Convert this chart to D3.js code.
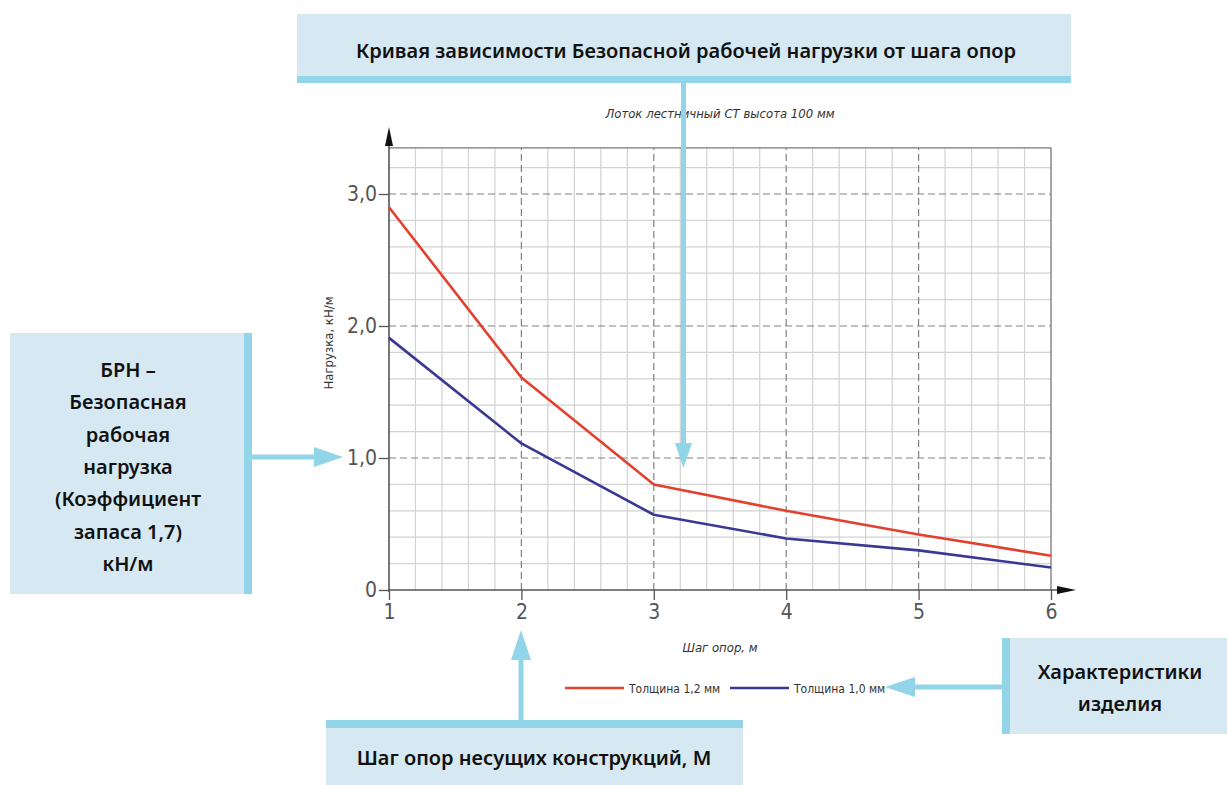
<!DOCTYPE html>
<html><head><meta charset="utf-8">
<script src="https://cdn.jsdelivr.net/npm/d3@7"></script>
<style>
html,body{margin:0;padding:0;background:#fff;}
svg{display:block;}
</style></head>
<body>
<svg id="chart" width="1227" height="785"></svg>
<script>
// ---- data ----
const spans = [1, 2, 3, 4, 5, 6];                 // Шаг опор, м
const load12 = [2.90, 1.61, 0.80, 0.60, 0.42, 0.26]; // Толщина 1,2 мм
const load10 = [1.91, 1.11, 0.57, 0.39, 0.30, 0.17]; // Толщина 1,0 мм
const seriesNames = ["Толщина 1,2 мм", "Толщина 1,0 мм"];
const seriesColors = ["#e2412f", "#3b3893"];
const xTicks = [1, 2, 3, 4, 5, 6];
const yTicks = [0, 1, 2, 3];
const yTickLabels = ["0", "1,0", "2,0", "3,0"];
const chartTitle = "Лоток лестничный СТ высота 100 мм";
const xTitle = "Шаг опор, м";
const yTitle = "Нагрузка, кН/м";

const svg = d3.select("#chart");
const x = d3.scaleLinear().domain([1, 6]).range([389, 1051]);
const y = d3.scaleLinear().domain([0, 3]).range([590, 194]);
const yTop = 3.35;
const narrow = "'Liberation Sans Narrow','DejaVu Sans Condensed',sans-serif";
const boxFont = "'Noto Sans','Open Sans',sans-serif";
const fill = "#d6e8f2", accent = "#92d5e8";

// ---- grid ----
const g = svg.append("g");
const minorX = d3.range(1.2, 6.0, 0.2).filter(v => Math.abs(v - Math.round(v)) > 1e-6);
const minorY = d3.range(0.2, 3.3, 0.2).filter(v => Math.abs(v - Math.round(v)) > 1e-6);
g.selectAll(".mx").data(minorX).join("line")
  .attr("x1", d => x(d)).attr("x2", d => x(d)).attr("y1", y(0)).attr("y2", y(yTop))
  .attr("stroke", "#d2d2d2").attr("stroke-width", 1.2);
g.selectAll(".my").data(minorY).join("line")
  .attr("x1", x(1)).attr("x2", x(6)).attr("y1", d => y(d)).attr("y2", d => y(d))
  .attr("stroke", "#d2d2d2").attr("stroke-width", 1.2);
g.selectAll(".Mx").data(xTicks.filter(v => v > 1 && v < 6)).join("line")
  .attr("x1", d => x(d)).attr("x2", d => x(d)).attr("y1", y(0)).attr("y2", y(yTop))
  .attr("stroke", "#808080").attr("stroke-width", 1.2).attr("stroke-dasharray", "7,4");
g.selectAll(".My").data(yTicks.filter(v => v > 0)).join("line")
  .attr("x1", x(1)).attr("x2", x(6)).attr("y1", d => y(d)).attr("y2", d => y(d))
  .attr("stroke", "#808080").attr("stroke-width", 1.2).attr("stroke-dasharray", "7,4");
// frame top and right
g.append("line").attr("x1", x(1)).attr("x2", x(6)).attr("y1", y(yTop)).attr("y2", y(yTop))
  .attr("stroke", "#777").attr("stroke-width", 1.3);
g.append("line").attr("x1", x(6)).attr("x2", x(6)).attr("y1", y(0)).attr("y2", y(yTop))
  .attr("stroke", "#777").attr("stroke-width", 1.3);

// ---- axes ----
const axisColor = "#555";
const yAxis = d3.axisLeft(y).tickValues(yTicks).tickFormat((d, i) => yTickLabels[i]).tickSize(10).tickPadding(2);
const ya = svg.append("g").attr("transform", `translate(${x(1)},0)`).call(yAxis);
ya.select(".domain").remove();
ya.selectAll(".tick line").attr("stroke", axisColor).attr("stroke-width", 1.3);
ya.selectAll(".tick text").attr("font-family", narrow).attr("font-size", 21).attr("fill", "#555");

const xAxis = d3.axisBottom(x).tickValues(xTicks).tickFormat(d3.format("d")).tickSize(10).tickPadding(4);
const xa = svg.append("g").attr("transform", `translate(0,${y(0)})`).call(xAxis);
xa.select(".domain").remove();
xa.selectAll(".tick line").attr("stroke", axisColor).attr("stroke-width", 1.3);
xa.selectAll(".tick text").attr("font-family", narrow).attr("font-size", 21).attr("fill", "#555");

// axis lines with arrows
svg.append("line").attr("x1", x(1)).attr("x2", x(1)).attr("y1", y(0) + 2).attr("y2", 140)
  .attr("stroke", axisColor).attr("stroke-width", 1.6);
svg.append("path").attr("d", `M${x(1)},127 L${x(1) - 4},146 L${x(1) + 4},146 Z`).attr("fill", "#111");
svg.append("line").attr("x1", x(1)).attr("x2", 1062).attr("y1", y(0)).attr("y2", y(0))
  .attr("stroke", axisColor).attr("stroke-width", 1.6);
svg.append("path").attr("d", `M1076,${y(0)} L1057,${y(0) - 4} L1057,${y(0) + 4} Z`).attr("fill", "#111");

// ---- lines ----
const line = d3.line().x(d => x(d[0])).y(d => y(d[1]));
[load12, load10].forEach((vals, i) => {
  svg.append("path").datum(spans.map((s, j) => [s, vals[j]]))
    .attr("d", line).attr("fill", "none").attr("stroke", seriesColors[i]).attr("stroke-width", 2.6)
    .attr("stroke-linejoin", "round");
});

// ---- texts ----
svg.append("text").attr("x", 720).attr("y", 118).attr("text-anchor", "middle")
  .attr("font-family", narrow).attr("font-style", "italic").attr("font-size", 13).attr("fill", "#333")
  .text(chartTitle);
svg.append("text").attr("transform", "translate(333,343) rotate(-90)").attr("text-anchor", "middle")
  .attr("font-family", narrow).attr("font-size", 13).attr("fill", "#333").text(yTitle);
svg.append("text").attr("x", 720).attr("y", 652).attr("text-anchor", "middle")
  .attr("font-family", narrow).attr("font-style", "italic").attr("font-size", 13).attr("fill", "#333").text(xTitle);

// legend
const legX = [565, 730];
seriesNames.forEach((n, i) => {
  svg.append("line").attr("x1", legX[i]).attr("x2", legX[i] + 59).attr("y1", 688).attr("y2", 688)
    .attr("stroke", seriesColors[i]).attr("stroke-width", 2.4);
  svg.append("text").attr("x", legX[i] + 64).attr("y", 692.5).attr("font-family", narrow)
    .attr("font-size", 12).attr("fill", "#333").text(n);
});

// ---- annotation boxes ----
const bfs = 20;
// top box
svg.append("rect").attr("x", 297).attr("y", 14).attr("width", 774).attr("height", 68).attr("fill", fill);
svg.append("rect").attr("x", 297).attr("y", 76).attr("width", 774).attr("height", 7).attr("fill", accent);
svg.append("text").attr("x", 686).attr("y", 58).attr("text-anchor", "middle").attr("font-family", boxFont)
  .attr("font-weight", 600).attr("font-size", bfs).attr("fill", "#111")
  .text("Кривая зависимости Безопасной рабочей нагрузки от шага опор");
svg.append("rect").attr("x", 681).attr("y", 80).attr("width", 5).attr("height", 366).attr("fill", accent);
svg.append("path").attr("d", "M683.5,468 L675,443 L692,443 Z").attr("fill", accent);

// left box
svg.append("rect").attr("x", 10).attr("y", 333).attr("width", 242).attr("height", 261).attr("fill", fill);
svg.append("rect").attr("x", 244).attr("y", 333).attr("width", 8).attr("height", 261).attr("fill", accent);
const leftLines = ["БРН –", "Безопасная", "рабочая", "нагрузка", "(Коэффициент", "запаса 1,7)", "кН/м"];
svg.append("g").selectAll("text").data(leftLines).join("text")
  .attr("x", 128).attr("y", (d, i) => 377 + i * 32.3).attr("text-anchor", "middle")
  .attr("font-family", boxFont).attr("font-weight", 600).attr("font-size", bfs).attr("fill", "#111").text(d => d);
svg.append("rect").attr("x", 250).attr("y", 454.5).attr("width", 66).attr("height", 5).attr("fill", accent);
svg.append("path").attr("d", "M343,457 L314,447 L314,467 Z").attr("fill", accent);

// bottom box
svg.append("rect").attr("x", 326).attr("y", 720).attr("width", 417).attr("height", 65).attr("fill", fill);
svg.append("rect").attr("x", 326).attr("y", 720).attr("width", 417).attr("height", 8).attr("fill", accent);
svg.append("text").attr("x", 534).attr("y", 765).attr("text-anchor", "middle").attr("font-family", boxFont)
  .attr("font-weight", 600).attr("font-size", bfs).attr("fill", "#111").text("Шаг опор несущих конструкций, М");
svg.append("rect").attr("x", 518.5).attr("y", 655).attr("width", 5).attr("height", 67).attr("fill", accent);
svg.append("path").attr("d", "M521,630 L511,660 L531,660 Z").attr("fill", accent);

// right box
svg.append("rect").attr("x", 1002).attr("y", 638).attr("width", 225).attr("height", 96).attr("fill", fill);
svg.append("rect").attr("x", 1002).attr("y", 638).attr("width", 8).attr("height", 96).attr("fill", accent);
svg.append("text").attr("x", 1120).attr("y", 679).attr("text-anchor", "middle").attr("font-family", boxFont)
  .attr("font-weight", 600).attr("font-size", bfs).attr("fill", "#111").text("Характеристики");
svg.append("text").attr("x", 1120).attr("y", 711).attr("text-anchor", "middle").attr("font-family", boxFont)
  .attr("font-weight", 600).attr("font-size", bfs).attr("fill", "#111").text("изделия");
svg.append("rect").attr("x", 912).attr("y", 684.5).attr("width", 92).attr("height", 5).attr("fill", accent);
svg.append("path").attr("d", "M885,687 L915,677 L915,697 Z").attr("fill", accent);
</script>
</body></html>
